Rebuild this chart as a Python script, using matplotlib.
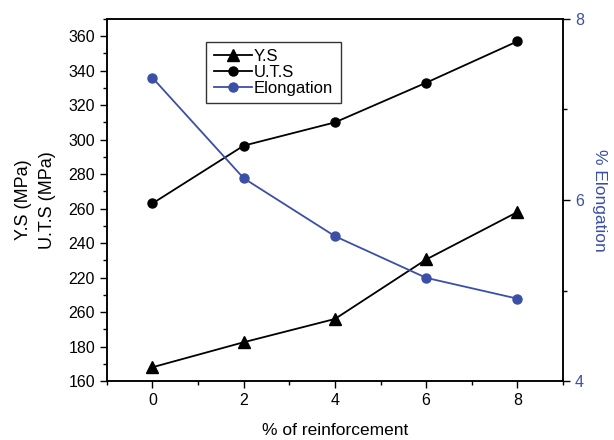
import matplotlib
matplotlib.use("Agg")
import matplotlib.pyplot as plt
from matplotlib.ticker import MultipleLocator

plt.rcParams['font.family'] = ['Liberation Sans', 'DejaVu Sans']

# data
reinforcement = [0, 2, 4, 6, 8]
ys = [168, 182.5, 196, 230.5, 258]
uts = [263, 296.5, 310, 333, 357]
elongation = [7.35, 6.24, 5.60, 5.14, 4.91]
left_ticks = [160, 180, 200, 220, 240, 260, 280, 300, 320, 340, 360]
left_ticklabels = ["160", "180", "260", "220", "240", "260", "280", "300", "320", "340", "360"]
right_ticks = [4, 6, 8]
x_ticks = [0, 2, 4, 6, 8]

BLUE = "#3b4fa6"

fig = plt.figure(figsize=(6.14, 4.4), dpi=100)
ax = fig.add_axes([0.174, 0.134, 0.743, 0.823])
ax2 = ax.twinx()

l1, = ax.plot(reinforcement, ys, color="black", marker="^", markersize=8, lw=1.3, label="Y.S")
l2, = ax.plot(reinforcement, uts, color="black", marker="o", markersize=6.5, lw=1.3, label="U.T.S")
l3, = ax2.plot(reinforcement, elongation, color=BLUE, marker="o", markersize=6.5, lw=1.3, label="Elongation")

ax.set_xlim(-1, 9)
ax.set_ylim(160, 370)
ax2.set_ylim(4, 8)

ax.set_xticks(x_ticks)
ax.xaxis.set_minor_locator(MultipleLocator(1))
ax.set_yticks(left_ticks)
ax.set_yticklabels(left_ticklabels)
ax.yaxis.set_minor_locator(MultipleLocator(10))
ax2.set_yticks(right_ticks)
ax2.yaxis.set_minor_locator(MultipleLocator(1))

for a in (ax, ax2):
    a.tick_params(which="major", direction="out", length=5, width=1, labelsize=11.5)
    a.tick_params(which="minor", direction="out", length=3, width=1)
    for s in a.spines.values():
        s.set_linewidth(1.1)
ax2.tick_params(axis="y", which="both", labelcolor=BLUE)

ax.set_xlabel("% of reinforcement", fontsize=12.5, labelpad=11)
ax.set_ylabel("Y.S (MPa)\nU.T.S (MPa)", fontsize=13, labelpad=9, linespacing=1.5)
ax2.set_ylabel("% Elongation", fontsize=12.5, color=BLUE, rotation=270, labelpad=17)

leg = ax.legend(handles=[l1, l2, l3], loc="upper left", bbox_to_anchor=(0.2, 0.96),
                fontsize=12, frameon=True, fancybox=False, edgecolor="black",
                handlelength=2.3, handletextpad=0.1, labelspacing=0.05, borderpad=0.45)
leg.get_frame().set_linewidth(1.0)

fig.savefig("out.png", dpi=100)
